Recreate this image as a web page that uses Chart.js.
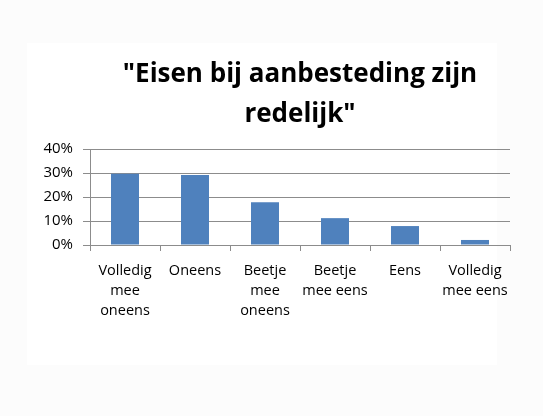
<!DOCTYPE html>
<html>
<head>
<meta charset="utf-8">
<script src="https://cdn.jsdelivr.net/npm/chart.js@4/dist/chart.umd.min.js"></script>
<style>
  html, body { margin: 0; padding: 0; background: #fcfcfc; }
  #wrap { position: relative; width: 543px; height: 416px; }
  #panel { position: absolute; left: 27px; top: 43px; width: 470px; height: 322px; background: #fff; }
  #chart { position: absolute; left: 0; top: 0; }
</style>
</head>
<body>
<div id="wrap">
  <div id="panel"></div>
  <canvas id="chart" width="543" height="416"></canvas>
</div>
<script>
// answers to "Eisen bij aanbesteding zijn redelijk" (share of respondents, %)
const categories = [
  ['Volledig', 'mee', 'oneens'],
  ['Oneens'],
  ['Beetje', 'mee', 'oneens'],
  ['Beetje', 'mee eens'],
  ['Eens'],
  ['Volledig', 'mee eens']
];
const shares = [29.7, 29.2, 17.8, 11.2, 7.9, 2.1];
const titleLines = ['"Eisen bij aanbesteding zijn', 'redelijk"'];

const GRID = '#8c8c8c';
const FONT = '"Open Sans", "DejaVu Sans", sans-serif';

const chart = new Chart(document.getElementById('chart').getContext('2d'), {
  type: 'bar',
  data: {
    labels: categories,
    datasets: [{
      data: shares,
      backgroundColor: '#4F81BD',
      borderWidth: 0,
      barPercentage: 0.4,
      categoryPercentage: 1
    }]
  },
  options: {
    responsive: false,
    animation: false,
    layout: { padding: { left: 30, right: 33, top: 55, bottom: 71 } },
    plugins: {
      legend: { display: false },
      tooltip: { enabled: false },
      title: {
        display: true,
        fullSize: false,
        text: titleLines,
        color: '#000',
        font: { family: FONT, size: 26, weight: 'bold', lineHeight: 1.54 },
        padding: { top: 0, bottom: 14 }
      }
    },
    scales: {
      x: {
        afterFit: s => { s.height = 100; },
        grid: { offset: true, drawOnChartArea: false, tickLength: 6, color: GRID },
        border: { color: GRID },
        ticks: {
          color: '#000', padding: 10, maxRotation: 0, autoSkip: false,
          font: { family: FONT, size: 14.5, lineHeight: 1.38 }
        }
      },
      y: {
        min: 0, max: 40,
        afterFit: s => { s.width = 60; },
        grid: { color: GRID, tickLength: 7 },
        border: { color: GRID },
        ticks: {
          stepSize: 10, color: '#000', padding: 10,
          font: { family: FONT, size: 15 },
          callback: v => v + '%'
        }
      }
    }
  }
});
</script>
</body>
</html>
